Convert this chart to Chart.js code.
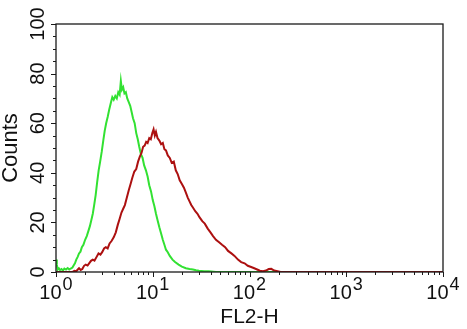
<!DOCTYPE html>
<html>
<head>
<meta charset="utf-8">
<script src="https://cdn.jsdelivr.net/npm/chart.js@4"></script>
<style>
  html, body { margin: 0; padding: 0; background: #fff; }
  #wrap { width: 467px; height: 329px; }
</style>
</head>
<body>
<div id="wrap"><canvas id="myChart"></canvas></div>
<script>
// FL2-H channel values (log scale) and counts
const greenX = [1.00, 1.02, 1.04, 1.07, 1.10, 1.14, 1.18, 1.22, 1.27, 1.32, 1.37, 1.42, 1.48, 1.52, 1.57, 1.62, 1.67, 1.73, 1.79, 1.85, 1.92, 2.00, 2.08, 2.16, 2.24, 2.32, 2.40, 2.48, 2.57, 2.66, 2.76, 2.86, 2.97, 3.08, 3.19, 3.30, 3.42, 3.55, 3.68, 3.82, 3.95, 4.10, 4.25, 4.40, 4.55, 4.68, 4.80, 4.95, 5.10, 5.27, 5.45, 5.65, 5.85, 6.05, 6.25, 6.50, 6.75, 7.00, 7.25, 7.55, 7.85, 8.15, 8.50, 8.85, 9.20, 9.60, 10.0, 10.4, 10.8, 11.2, 11.7, 12.2, 12.7, 13.2, 13.7, 14.3, 15.0, 16.0, 17.0, 18.5, 20.0, 22.0, 24.0, 26.0, 28.0, 30.0, 34.0, 38.0, 45.0, 60.0, 100, 200, 1000, 10000];
const greenY = [5.0, 3.0, 1.0, 1.5, 0.8, 1.2, 0.6, 1.4, 1.0, 1.6, 1.0, 1.4, 1.8, 2.6, 3.5, 5.0, 6.0, 7.5, 8.2, 10.0, 11.0, 13.0, 14.5, 16.5, 18.5, 21.0, 23.5, 27.0, 31.0, 36.0, 41.0, 44.5, 48.5, 53.0, 57.0, 60.0, 62.5, 65.5, 68.0, 70.5, 69.5, 71.0, 70.0, 72.5, 71.5, 77.0, 73.5, 74.5, 72.0, 72.5, 70.0, 68.5, 67.0, 64.5, 62.0, 60.0, 56.0, 53.5, 50.5, 47.5, 46.0, 43.0, 41.0, 38.5, 35.0, 32.5, 29.0, 26.5, 23.5, 21.0, 18.0, 15.5, 13.0, 11.0, 9.0, 8.0, 6.5, 5.0, 4.0, 3.0, 2.2, 1.5, 1.2, 1.0, 0.7, 0.5, 0.3, 0.3, 0.0, 0.0, 0.0, 0.0, 0.0, 0.0];

const redX = [1.00, 1.47, 1.55, 1.62, 1.68, 1.73, 1.80, 1.87, 1.95, 2.03, 2.12, 2.20, 2.30, 2.40, 2.50, 2.62, 2.75, 2.88, 3.00, 3.14, 3.27, 3.42, 3.58, 3.75, 3.95, 4.15, 4.35, 4.55, 4.75, 4.95, 5.15, 5.40, 5.65, 5.90, 6.15, 6.45, 6.75, 7.05, 7.35, 7.65, 7.95, 8.25, 8.55, 8.85, 9.20, 9.55, 9.90, 10.2, 10.5, 10.8, 11.2, 11.7, 12.2, 12.7, 13.2, 13.7, 14.3, 15.0, 15.7, 16.5, 17.3, 18.1, 19.0, 20.0, 21.0, 22.0, 23.0, 24.0, 25.0, 26.0, 27.5, 29.0, 30.5, 32.5, 34.5, 37.0, 39.5, 42.0, 45.0, 48.5, 52.0, 56.0, 60.0, 65.0, 70.0, 76.0, 82.0, 89.0, 96.0, 104, 112, 120, 128, 138, 148, 158, 168, 180, 195, 210, 1000, 10000];
const redY = [0.0, 0.0, 0.5, 0.3, 1.0, 1.5, 0.8, 1.2, 2.5, 3.0, 2.6, 3.5, 4.5, 5.0, 4.6, 6.0, 7.5, 7.0, 8.0, 9.5, 10.0, 9.5, 11.5, 12.5, 14.0, 16.0, 19.0, 21.5, 24.0, 25.5, 27.0, 30.0, 33.0, 35.5, 38.0, 40.5, 41.5, 44.5, 46.5, 48.0, 50.5, 51.0, 52.5, 52.0, 54.0, 53.5, 56.0, 57.5, 55.0, 56.5, 54.0, 53.0, 51.5, 52.0, 49.5, 49.0, 47.0, 46.0, 44.0, 44.5, 41.0, 39.5, 37.0, 35.5, 34.0, 32.0, 30.0, 28.5, 27.0, 26.0, 24.5, 23.5, 22.0, 20.5, 19.5, 17.5, 16.0, 14.5, 13.0, 12.0, 11.0, 10.0, 8.5, 7.5, 6.5, 5.0, 4.0, 3.5, 2.5, 2.0, 1.5, 1.0, 0.5, 0.3, 0.6, 1.2, 1.3, 0.6, 0.3, 0.0, 0.0, 0.0];

const yTicks = [0, 20, 40, 60, 80, 100];
const xTicks = [1, 10, 100, 1000, 10000];
const xExponents = ['0', '1', '2', '3', '4'];
const yTitle = 'Counts';
const xTitle = 'FL2-H';

const FONT = '"Liberation Sans", Arial, Helvetica, sans-serif';

function pairs(xs, ys) {
  return xs.map((x, i) => ({ x: x, y: ys[i] }));
}

// frame, tick marks and labels drawn around the plot area
const axesPlugin = {
  id: 'axesPlugin',
  afterDraw(chart) {
    const ctx = chart.ctx;
    const a = chart.chartArea;
    const xs = chart.scales.x;
    const ys = chart.scales.y;
    ctx.save();
    ctx.strokeStyle = '#1a1a1a';
    ctx.lineWidth = 1.3;
    ctx.strokeRect(a.left, a.top, a.right - a.left, a.bottom - a.top);

    ctx.lineWidth = 1;
    ctx.beginPath();
    // y ticks: major every 20, minor every 5
    for (let v = 0; v <= 100; v += 5) {
      const py = Math.round(ys.getPixelForValue(v)) + 0.5;
      const len = (v % 20 === 0) ? 5 : 3;
      ctx.moveTo(a.left - len, py);
      ctx.lineTo(a.left, py);
    }
    // x ticks: decades long, 2..9 short
    for (let d = 0; d < 4; d++) {
      for (let m = 1; m <= 10; m++) {
        const v = m * Math.pow(10, d);
        const px = Math.round(xs.getPixelForValue(v)) + 0.5;
        const len = (m === 1 || m === 10) ? 5 : 3;
        ctx.moveTo(px, a.bottom);
        ctx.lineTo(px, a.bottom + len);
      }
    }
    ctx.stroke();

    ctx.fillStyle = '#111';
    // y tick labels, rotated
    ctx.font = '20px ' + FONT;
    ctx.textAlign = 'center';
    ctx.textBaseline = 'alphabetic';
    yTicks.forEach(v => {
      const py = ys.getPixelForValue(v);
      ctx.save();
      ctx.translate(a.left - 12.5, py);
      ctx.rotate(-Math.PI / 2);
      ctx.fillText(String(v), 0, 0);
      ctx.restore();
    });

    // x tick labels 10^n
    ctx.textAlign = 'left';
    xTicks.forEach((v, i) => {
      const px = xs.getPixelForValue(v);
      ctx.font = '20px ' + FONT;
      const w1 = ctx.measureText('10').width;
      ctx.font = '18px ' + FONT;
      const w2 = ctx.measureText(xExponents[i]).width;
      const x0 = px - (w1 + 1 + w2) / 2;
      ctx.font = '20px ' + FONT;
      ctx.fillText('10', x0, a.bottom + 27);
      ctx.font = '18px ' + FONT;
      ctx.fillText(xExponents[i], x0 + w1 + 1, a.bottom + 18);
    });

    // axis titles
    ctx.textAlign = 'center';
    ctx.font = '21px ' + FONT;
    ctx.fillText(xTitle, (a.left + a.right) / 2, a.bottom + 51);
    ctx.save();
    ctx.translate(17, (a.top + a.bottom) / 2);
    ctx.rotate(-Math.PI / 2);
    ctx.font = '22px ' + FONT;
    ctx.fillText(yTitle, 0, 0);
    ctx.restore();
    ctx.restore();
  }
};

function createChart() {
  const ctx = document.getElementById('myChart').getContext('2d');
  new Chart(ctx, {
    type: 'line',
    data: {
      datasets: [
        {
          label: 'control',
          data: pairs(greenX, greenY),
          borderColor: 'rgb(50, 225, 50)',
          borderWidth: 2,
          pointRadius: 0,
          tension: 0,
          order: 1
        },
        {
          label: 'stained',
          data: pairs(redX, redY),
          borderColor: 'rgb(172, 16, 16)',
          borderWidth: 2,
          pointRadius: 0,
          tension: 0,
          order: 0
        }
      ]
    },
    options: {
      responsive: true,
      maintainAspectRatio: false,
      animation: false,
      layout: { padding: { left: 56, right: 24, top: 24, bottom: 57 } },
      plugins: { legend: { display: false }, tooltip: { enabled: false } },
      scales: {
        x: { type: 'logarithmic', min: 1, max: 10000, display: false },
        y: { type: 'linear', min: 0, max: 100, display: false }
      }
    },
    plugins: [axesPlugin]
  });
}
createChart();
</script>
</body>
</html>
